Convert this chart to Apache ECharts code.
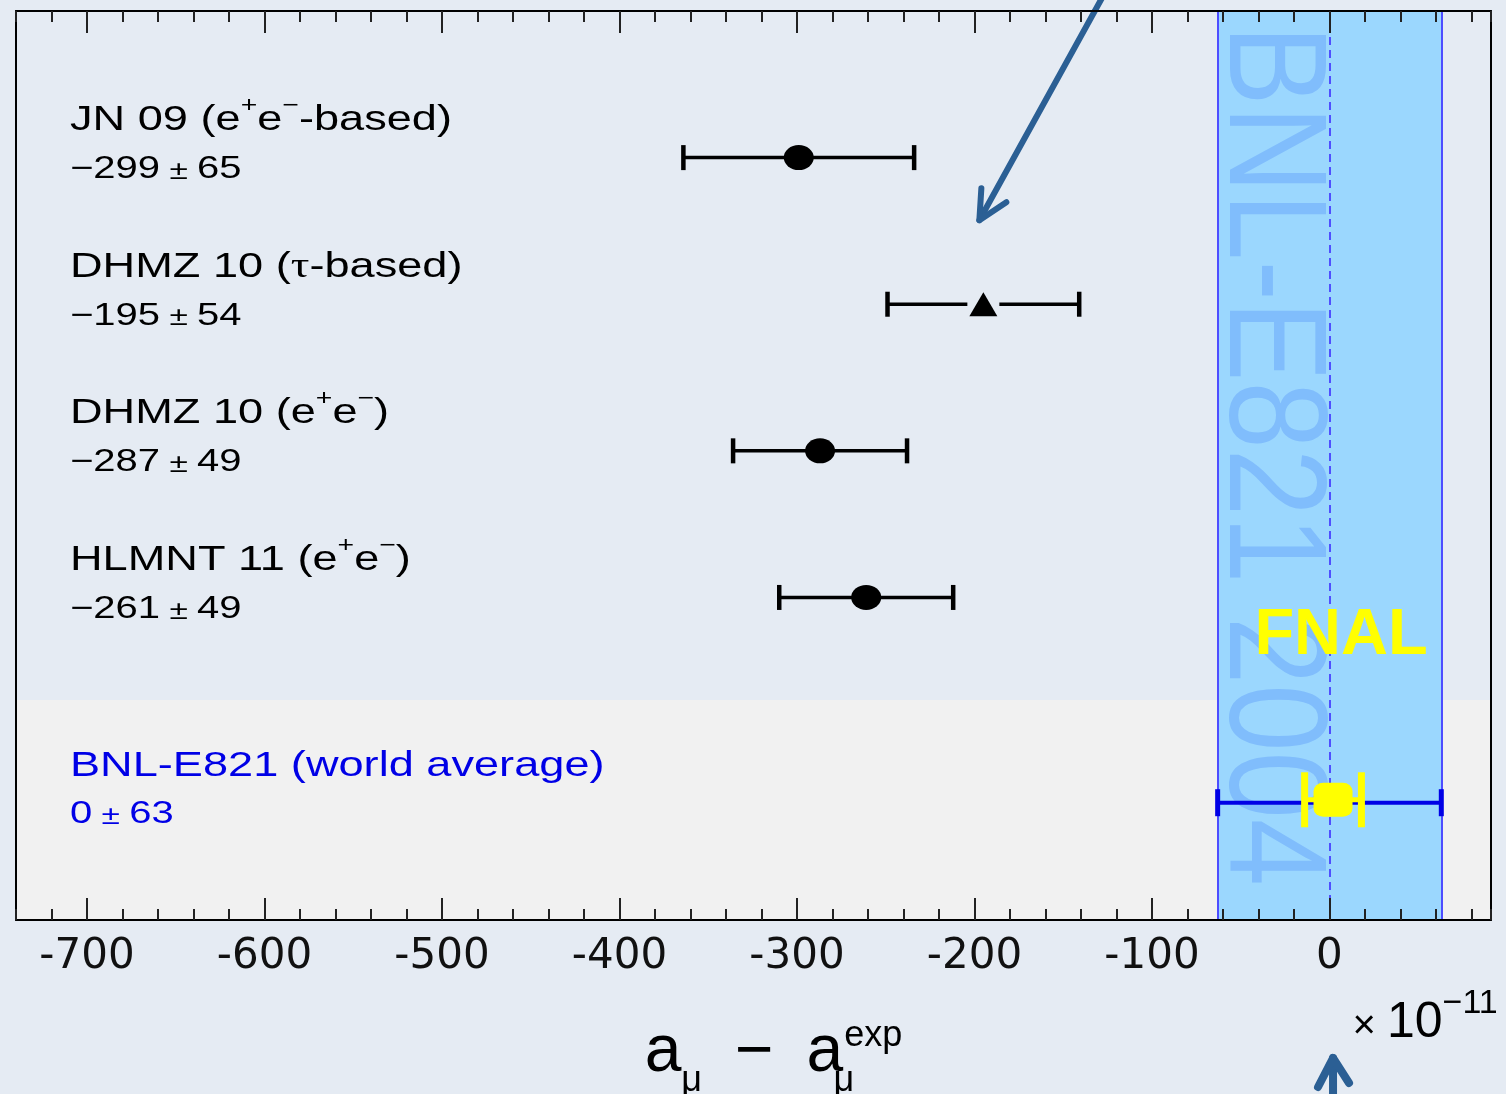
<!DOCTYPE html>
<html>
<head>
<meta charset="utf-8">
<script src="https://cdn.jsdelivr.net/npm/echarts@6/dist/echarts.min.js"></script>
<style>
html, body { margin: 0; padding: 0; background: #e5ebf3; }
#chart { width: 1506px; height: 1094px; }
</style>
</head>
<body>
<div id="chart"></div>
<script>
// ---------------- data ----------------
const names = ['JN 09 (e+e−-based)', 'DHMZ 10 (τ-based)', 'DHMZ 10 (e+e−)', 'HLMNT 11 (e+e−)'];
const values = [-299, -195, -287, -261];
const errors = [65, 54, 49, 49];
const markers = ['circle', 'triangle', 'circle', 'circle'];
const expName = 'BNL-E821 (world average)';
const expValue = 0;
const expError = 63;
const fnalName = 'FNAL';
const fnalValue = 2;
const fnalError = 16;
const bandTitle = 'BNL-E821 2004';
const majorTicks = [-700, -600, -500, -400, -300, -200, -100, 0];
const xMin = -740;
const xMax = 91;

// ---------------- layout constants ----------------
const Y_MAX = 6.2;
const EXP_ROW = 5.4;
const FNAL_ROW = EXP_ROW - 0.02;
const GRAY_TOP = 4.70;
const SANS = "'Liberation Sans', Arial, Helvetica, sans-serif";
const WIDE = "'DejaVu Sans', 'Liberation Sans', sans-serif";
const SERIF = "'Liberation Serif', 'Times New Roman', serif";
const STRETCH = 1.29;

const chart = echarts.init(document.getElementById('chart'), null, { width: 1506, height: 1094 });

const tickLine = { color: '#222', width: 2 };
function xAxisDef(pos, major) {
  const ax = {
    type: 'value', min: xMin, max: xMax, position: pos, z: 10,
    splitLine: { show: false },
    axisLine: { show: major, onZero: false, lineStyle: { color: '#000', width: 2 } },
    axisTick: { show: true, inside: true, length: major ? 22 : 11, lineStyle: tickLine },
    axisLabel: { show: false }
  };
  if (major) {
    ax.axisTick.customValues = majorTicks;
  } else {
    ax.interval = 20;
  }
  return ax;
}
const xAxes = [xAxisDef('bottom', true), xAxisDef('bottom', false), xAxisDef('top', true), xAxisDef('top', false)];
xAxes[0].axisLabel = {
  show: true, customValues: majorTicks, margin: 16, fontSize: 42, color: '#111', fontFamily: WIDE,
  formatter: v => String(v)
};
const nameTok = (size, pad, extra) => Object.assign({
  fontSize: size, lineHeight: size, verticalAlign: 'middle', fontFamily: SANS, color: '#000', padding: pad
}, extra || {});
xAxes[0].name = '{a|a}{sub|μ}{op|−}{a|a}{subz|μ}{sup|exp}';
xAxes[0].nameLocation = 'middle';
xAxes[0].nameGap = 100;
xAxes[0].nameTextStyle = {
  padding: [0, 0, 0, 40],
  rich: {
    a: nameTok(66, [0, 0, 0, 0]),
    op: nameTok(66, [0, 33, 0, 33]),
    sub: nameTok(36, [56, 0, 0, 0]),
    subz: nameTok(36, [56, 0, 0, 0], { width: 1, align: 'left' }),
    sup: nameTok(36, [0, 0, 34, 0])
  }
};

function yAxisDef(pos) {
  return {
    type: 'value', min: 0, max: Y_MAX, inverse: true, position: pos, z: 10,
    axisLine: { show: true, onZero: false, lineStyle: { color: '#000', width: 2 } },
    axisTick: { show: false }, axisLabel: { show: false }, splitLine: { show: false }
  };
}

function errorBarItem(st) {
  return function (params, api) {
    const v = api.value(0), r = api.value(1), e = api.value(2);
    const c = api.coord([v, r]);
    const L = api.coord([v - e, r]);
    const R = api.coord([v + e, r]);
    const gap = st.gaps ? st.gaps[params.dataIndex] : 0;
    const h = st.capHeight / 2;
    const ls = { stroke: st.color, lineWidth: st.lineWidth, fill: null };
    const cs = { stroke: st.color, lineWidth: st.capWidth, fill: null };
    const children = [];
    if (gap > 0) {
      children.push({ type: 'line', shape: { x1: L[0], y1: L[1], x2: c[0] - gap, y2: c[1] }, style: ls });
      children.push({ type: 'line', shape: { x1: c[0] + gap, y1: c[1], x2: R[0], y2: R[1] }, style: ls });
    } else {
      children.push({ type: 'line', shape: { x1: L[0], y1: L[1], x2: R[0], y2: R[1] }, style: ls });
    }
    children.push({ type: 'line', shape: { x1: L[0], y1: L[1] - h, x2: L[0], y2: L[1] + h }, style: cs });
    children.push({ type: 'line', shape: { x1: R[0], y1: R[1] - h, x2: R[0], y2: R[1] + h }, style: cs });
    return { type: 'group', children: children };
  };
}

const bandLo = expValue - expError, bandHi = expValue + expError;

const option = {
  animation: false,
  backgroundColor: '#e5ebf3',
  grid: { left: 16, right: 15, top: 11, bottom: 174, containLabel: false, outerBoundsMode: 'none' },
  xAxis: xAxes,
  yAxis: [yAxisDef('left'), yAxisDef('right')],
  series: [
    {
      type: 'line', data: [[expValue, EXP_ROW]], symbol: 'none', lineStyle: { opacity: 0 }, silent: true, z: 1,
      markArea: {
        silent: true, z: 1, label: { show: false },
        data: [
          [{ coord: [xMin, GRAY_TOP], itemStyle: { color: '#f1f1f1', opacity: 1 } }, { coord: [xMax, Y_MAX] }],
          [{ coord: [bandLo, 0], itemStyle: { color: '#9bd7fe', opacity: 1 } }, { coord: [bandHi, Y_MAX] }]
        ]
      },
      markLine: {
        silent: true, z: 2, symbol: ['none', 'none'], label: { show: false },
        data: [
          [{ coord: [bandLo, 0], lineStyle: { color: '#4d4dff', width: 2, type: 'solid', opacity: 1 } }, { coord: [bandLo, Y_MAX] }],
          [{ coord: [bandHi, 0], lineStyle: { color: '#4d4dff', width: 2, type: 'solid', opacity: 1 } }, { coord: [bandHi, Y_MAX] }],
          [{ coord: [expValue, 0], lineStyle: { color: '#4f4fff', width: 2, type: [8, 5], opacity: 1 } }, { coord: [expValue, Y_MAX] }]
        ]
      }
    },
    {
      type: 'custom', z: 3, silent: true, encode: { x: 0, y: 1 },
      renderItem: errorBarItem({ color: '#000', lineWidth: 3.5, capWidth: 4.5, capHeight: 25, gaps: markers.map(m => m === 'triangle' ? 16 : 0) }),
      data: values.map((v, i) => [v, i + 1, errors[i]])
    },
    {
      type: 'scatter', z: 4, silent: true, itemStyle: { color: '#000', opacity: 1 },
      data: values.map((v, i) => ({ value: [v, i + 1], symbol: markers[i], symbolSize: markers[i] === 'triangle' ? [28, 24] : [30, 25] }))
    },
    {
      type: 'custom', z: 5, silent: true, encode: { x: 0, y: 1 },
      renderItem: errorBarItem({ color: '#0000e6', lineWidth: 4, capWidth: 5, capHeight: 27 }),
      data: [[expValue, EXP_ROW, expError]]
    },
    {
      type: 'custom', z: 6, silent: true, encode: { x: 0, y: 1 },
      renderItem: errorBarItem({ color: '#ffff00', lineWidth: 5, capWidth: 7, capHeight: 55 }),
      data: [[fnalValue, FNAL_ROW, fnalError]]
    },
    {
      type: 'scatter', z: 7, silent: true, symbol: 'roundRect', symbolSize: [39, 34], itemStyle: { color: '#ffff00', opacity: 1 },
      label: { show: true, position: 'inside', offset: [8, -164], formatter: fnalName, color: '#ffff00', opacity: 1, fontSize: 65, fontWeight: 'bold', fontFamily: SANS },
      data: [[fnalValue, FNAL_ROW]]
    }
  ]
};
chart.setOption(option);

// ---------------- annotations placed through the chart's own scales ----------------
const px = (x, y) => chart.convertToPixel({ gridIndex: 0 }, [x, y]);
const gridLeft = px(xMin, 0)[0];
const gridTop = px(xMin, 0)[1];
const gridBottom = px(xMin, Y_MAX)[1];
const labelX = gridLeft + 54;

const nameRich = {
  sup: { fontSize: 22, lineHeight: 22, verticalAlign: 'middle', fontFamily: SANS, fill: '#000', padding: [0, 0, 30, 0] },
  tau: { fontSize: 36, lineHeight: 36, verticalAlign: 'middle', fontFamily: SERIF, fill: '#000' }
};
const valRich = {
  pm: { fontSize: 26, lineHeight: 26, verticalAlign: 'middle', fontFamily: SANS, fill: '#000', padding: [4, 0, 0, 0] }
};
function richName(n) {
  return n.replace(/e\+e−/g, 'e{sup|+}e{sup|−}').replace('τ', '{tau|τ}');
}
function valueText(v, e) {
  return (v < 0 ? '−' : '') + Math.abs(v) + '{pm| ± }' + e;
}
function textEl(text, x, y, size, color, rich, z) {
  return {
    type: 'text', x: x, y: y, scaleX: STRETCH, z: z || 8, silent: true,
    style: {
      text: text, fontSize: size, fontFamily: SANS, fill: color, align: 'left', verticalAlign: 'middle',
      lineHeight: size, rich: rich
    }
  };
}
function recolor(rich, color) {
  const out = {};
  Object.keys(rich).forEach(k => { out[k] = Object.assign({}, rich[k], { fill: color }); });
  return out;
}

const graphics = [];
names.forEach((n, i) => {
  const yRow = px(values[i], i + 1)[1];
  graphics.push(textEl(richName(n), labelX, yRow - 37, 35, '#000', nameRich));
  graphics.push(textEl(valueText(values[i], errors[i]), labelX, yRow + 12, 31, '#000', valRich));
});
const expY = px(expValue, EXP_ROW)[1];
graphics.push(textEl(expName, labelX, expY - 36, 35, '#0000e6', recolor(nameRich, '#0000e6')));
graphics.push(textEl(valueText(expValue, expError), labelX, expY + 12, 31, '#0000e6', recolor(valRich, '#0000e6')));

// rotated band title
const bandLeftPx = px(bandLo, 0)[0];
graphics.push({
  type: 'text', x: bandLeftPx + 51, y: gridTop + 14, rotation: -Math.PI / 2, scaleY: 1.15, z: 1.5, silent: true,
  style: { text: bandTitle, fontSize: 121, fontFamily: SANS, fill: '#80bdfc', align: 'left', verticalAlign: 'middle' }
});

// unit label
const zeroPx = px(0, 0)[0];
graphics.push({
  type: 'text', x: zeroPx + 23, y: gridBottom + 103, z: 8, silent: true,
  style: {
    text: '{t|× }{n|10}{s|−11}', align: 'left', verticalAlign: 'middle', fill: '#000', fontFamily: SANS, fontSize: 49,
    rich: {
      t: { fontSize: 40, lineHeight: 40, verticalAlign: 'middle', fontFamily: SANS, fill: '#000', padding: [8, 0, 0, 0] },
      n: { fontSize: 50, lineHeight: 50, verticalAlign: 'middle', fontFamily: SANS, fill: '#000' },
      s: { fontSize: 34, lineHeight: 34, verticalAlign: 'middle', fontFamily: SANS, fill: '#000', padding: [0, 0, 38, 0] }
    }
  }
});

// arrows
const tauPx = px(values[1], 2);
const t1 = [tauPx[0] - 4, tauPx[1] - 84];
const arrowStyle = { stroke: '#2b5f94', lineWidth: 6, lineCap: 'round', lineJoin: 'round', fill: null };
graphics.push({ type: 'polyline', z: 9, silent: true, shape: { points: [[t1[0] + 128, t1[1] - 232], t1] }, style: arrowStyle });
graphics.push({ type: 'polyline', z: 9, silent: true, shape: { points: [[t1[0] + 2, t1[1] - 32], t1, [t1[0] + 27, t1[1] - 18]] }, style: arrowStyle });

const fnalPx = px(fnalValue, FNAL_ROW);
const t2 = [fnalPx[0], gridBottom + 138];
const arrowStyle2 = Object.assign({}, arrowStyle, { lineWidth: 8 });
graphics.push({ type: 'polyline', z: 9, silent: true, shape: { points: [t2, [t2[0], t2[1] + 60]] }, style: arrowStyle2 });
graphics.push({ type: 'polyline', z: 9, silent: true, shape: { points: [[t2[0] - 15, t2[1] + 29], t2, [t2[0] + 16, t2[1] + 25]] }, style: arrowStyle2 });

chart.setOption({ graphic: { elements: graphics } });
</script>
</body>
</html>
